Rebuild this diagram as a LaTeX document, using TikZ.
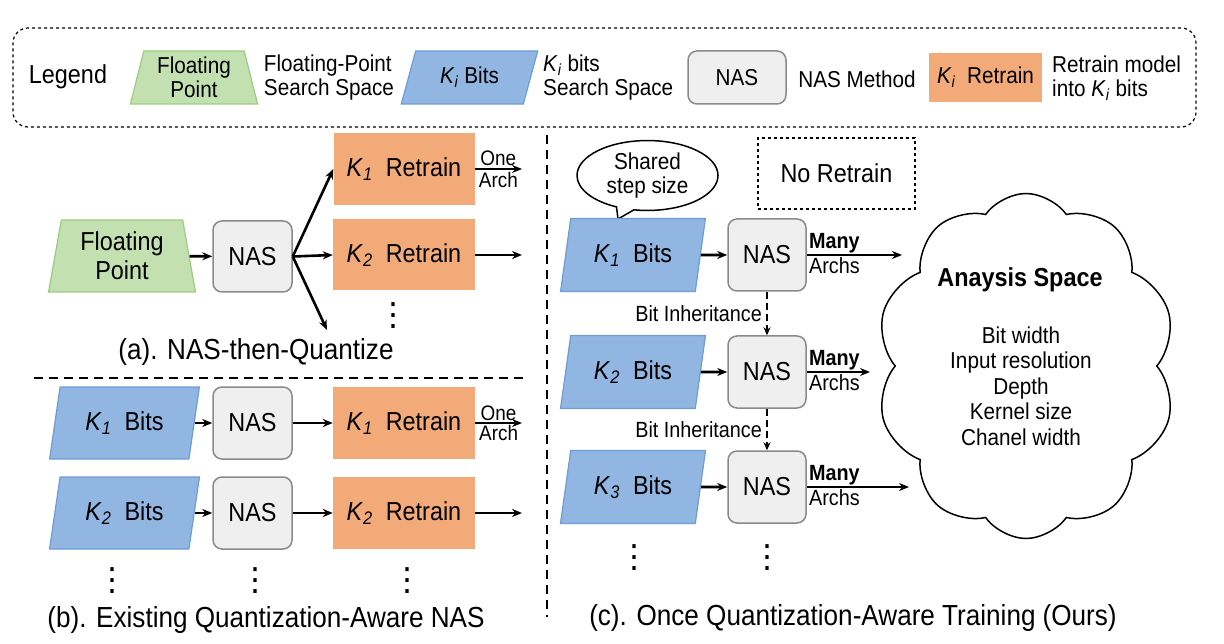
\documentclass[tikz,border=0pt]{standalone}
\usepackage{fontspec}
\setmainfont{Liberation Sans}[FakeStretch=0.9]
\newfontfamily\dotfont{DejaVu Sans}
\usetikzlibrary{shapes.geometric,shapes.symbols,shapes.callouts,arrows.meta}

\definecolor{fpfill}{HTML}{C3E0B0}
\definecolor{fpline}{HTML}{9DCC80}
\definecolor{bitfill}{HTML}{91B6E2}
\definecolor{bitline}{HTML}{6E9DD6}
\definecolor{nasfill}{HTML}{EFEFEF}
\definecolor{nasline}{HTML}{8A8A8A}
\definecolor{retfill}{HTML}{F2AA79}

\newcommand{\Kbit}[1]{\textit{K}\textsubscript{\textit{#1}}}
\newcommand{\fmain}{\fontsize{26}{29}\selectfont}
\newcommand{\fkey}{\fontsize{23}{24}\selectfont}
\newcommand{\fsmall}{\fontsize{22}{24}\selectfont}
\newcommand{\fcap}{\fontsize{29}{32}\selectfont}
\newcommand{\vdotz}{{\dotfont\fontsize{32}{32}\selectfont ⋮}}

\tikzset{tight/.style={inner sep=2pt},
  dims/.style 2 args={minimum width=#1, minimum height=#2},
  fpbox/.style={trapezium, trapezium stretches=true, trapezium left angle=80,
    trapezium right angle=80, draw=fpline, fill=fpfill, line width=1.2pt, align=center},
  bitbox/.style={trapezium, trapezium stretches=true, trapezium left angle=76,
    trapezium right angle=104, draw=bitline, fill=bitfill, line width=1.2pt},
  nasbox/.style={rectangle, rounded corners=9pt, draw=nasline, fill=nasfill, line width=1.5pt},
  retbox/.style={rectangle, fill=retfill},
  flow/.style={-{Stealth[length=10pt,width=8pt]}, line width=2.6pt},
  inherit/.style={-{Stealth[length=8pt,width=7pt]}, line width=2.2pt, dash pattern=on 7pt off 4pt},
  sep/.style={line width=1.3pt, dash pattern=on 9pt off 6pt},
  archlabel/.style={font=\fontsize{21}{22}\selectfont, inner sep=2pt}}

\begin{document}
\begin{tikzpicture}[x=1pt, y=-1pt, style=tight, font=\fmain]
  \useasboundingbox (0, 0) rectangle (1224, 644);

  % legend
  \node at (604.5, 77.5) [draw, dashed, line width=1.2pt, rounded corners=15pt, dims={1183}{99}] (legend) {};
  \node at (68, 77) [font=\fontsize{26}{28}\selectfont] (legendtitle) {Legend};
  \node at (194, 77.5) [fpbox, trapezium left angle=77, trapezium right angle=77,
    dims={128}{53}, font=\fkey] (keyfp) {Floating\\Point};
  \node at (329, 78) [align=left, font=\fkey] (keyfptext) {Floating-Point\\Search Space};
  \node at (469.5, 77.5) [bitbox, trapezium left angle=71, trapezium right angle=109,
    dims={137}{53}, font=\fkey] (keybits) {\Kbit{i} Bits};
  \node at (541, 78) [anchor=west, align=left, font=\fkey] (keybitstext) {\Kbit{i} bits\\Search Space};
  \node at (737, 77.5) [nasbox, dims={98}{53}, font=\fkey] (keynas) {NAS};
  \node at (857, 79) [font=\fkey] (keynastext) {NAS Method};
  \node at (985.5, 77.5) [retbox, dims={113}{49}, font=\fkey] (keyret) {\Kbit{i}\ \ Retrain};
  \node at (1050, 78) [anchor=west, align=left, font=\fkey] (keyrettext) {Retrain model\\into \Kbit{i}\ bits};

  % (a)
  \node at (122, 256) [fpbox, dims={147}{72}] (fp) {Floating\\Point};
  \node at (252.5, 256.5) [nasbox, dims={79}{71}] (nasA) {NAS};
  \node at (404, 169) [retbox, dims={141}{72}] (retA1) {\Kbit{1}\ \ Retrain};
  \node at (404, 255) [retbox, dims={142}{71}] (retA2) {\Kbit{2}\ \ Retrain};
  \node at (393, 316) (moreA) {\vdotz};
  \coordinate (downA) at (327, 330);
  \coordinate (outA1) at (522, 169);
  \coordinate (outA2) at (522, 255);
  \draw[flow] (fp) -- (nasA);
  \draw[flow] (nasA.east) -- (retA1.west);
  \draw[flow] (nasA.east) -- (retA2.west);
  \draw[flow] (nasA.east) -- (downA);
  \draw[flow] (retA1) -- (outA1) node[midway, above, archlabel] {One}
    node[midway, below, archlabel] {Arch};
  \draw[flow] (retA2) -- (outA2);
  \node at (256, 352) [font=\fcap] (capA) {(a). NAS-then-Quantize};

  \draw[sep] (34, 378) -- (527, 378);
  \draw[sep] (547, 135) -- (547, 617);

  % (b)
  \foreach \k / \y in {1/423, 2/513} {
    \node at (124.5, \y) [bitbox, dims={151}{72}] (bitsB\k) {\Kbit{\k}\ \ Bits};
    \node at (252.5, \y) [nasbox, dims={79}{72}] (nasB\k) {NAS};
    \node at (404, \y) [retbox, dims={142}{72}] (retB\k) {\Kbit{\k}\ \ Retrain};
    \coordinate (outB\k) at (522, \y);
    \draw[flow] (bitsB\k) -- (nasB\k);
    \draw[flow] (nasB\k) -- (retB\k);
    \draw[flow] (retB\k) -- (outB\k);
  }
  \path (retB1) -- (outB1) node[midway, above, archlabel] {One}
    node[midway, below, archlabel] {Arch};
  \foreach \x / \n in {112/1, 255/2, 407/3}
    \node at (\x, 581) (moreB\n) {\vdotz};
  \node at (266, 620) [font=\fcap] (capB) {(b). Existing Quantization-Aware NAS};

  % (c)
  \coordinate (tail) at (618, 219);
  \node at (647.5, 175.5) [ellipse callout, draw, line width=1.5pt, callout absolute pointer=(tail),
    dims={141}{61}, align=center, font=\fkey] (shared) {Shared\\step size};
  \node at (836.5, 173.5) [draw, dashed, line width=1.5pt, dims={157}{71}] (noretrain) {No Retrain};
  \foreach \k / \y / \xe in {1/255/902, 2/372/870, 3/487/909} {
    \node at (633, \y) [bitbox, dims={146}{73}] (bitsC\k) {\Kbit{\k}\ \ Bits};
    \node at (767, \y) [nasbox, dims={78}{72}] (nasC\k) {NAS};
    \coordinate (outC\k) at (\xe, \y);
    \draw[flow] (bitsC\k) -- (nasC\k);
    \draw[flow] (nasC\k) -- (outC\k)
      node[pos=0, above right, font=\fsmall\bfseries, inner sep=1pt] {Many}
      node[pos=0, below right, font=\fsmall, inner sep=1pt] {Archs};
  }
  \foreach \a / \b in {1/2, 2/3}
    \draw[inherit] (nasC\a) -- (nasC\b) node[midway, left, font=\fsmall, inner sep=4pt] {Bit Inheritance};
  \node at (1026, 366) [cloud, draw, line width=1.5pt, cloud puffs=10, cloud puff arc=110,
    cloud ignores aspect, dims={300}{345}] (space) {};
  \node at (1020, 280) [font=\fmain\bfseries] (spacetitle) {Anaysis Space};
  \node at (1021, 386) [align=center, font=\fontsize{23}{25.5}\selectfont] (spacelist)
    {Bit width\\Input resolution\\Depth\\Kernel size\\Chanel width};
  \foreach \x / \n in {634/1, 767/2}
    \node at (\x, 558) (moreC\n) {\vdotz};
  \node at (853, 618) [font=\fcap] (capC) {(c). Once Quantization-Aware Training (Ours)};
\end{tikzpicture}
\end{document}
